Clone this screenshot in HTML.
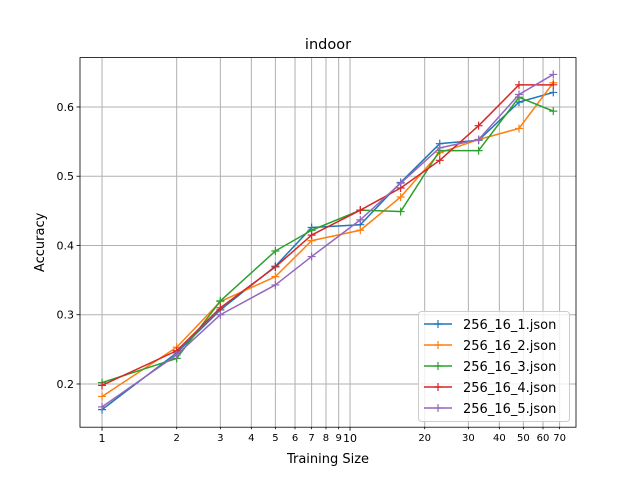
<!DOCTYPE html>
<html><head><meta charset="utf-8"><style>
body{margin:0;background:#fff;font-family:"Liberation Sans","DejaVu Sans",sans-serif;}
svg text{font-family:"DejaVu Sans","Liberation Sans",sans-serif;}
</style></head><body>
<svg id="chart" width="640" height="480" xmlns="http://www.w3.org/2000/svg"></svg>
<script>
const sizes=[1,2,3,5,7,11,16,23,33,48,66];
const s1=[0.163,0.245,0.307,0.370,0.426,0.430,0.491,0.547,0.552,0.607,0.621];
const s2=[0.182,0.253,0.319,0.355,0.407,0.422,0.470,0.534,0.553,0.569,0.635];
const s3=[0.202,0.237,0.320,0.392,0.422,0.451,0.449,0.537,0.537,0.614,0.594];
const s4=[0.198,0.248,0.310,0.369,0.415,0.451,0.483,0.523,0.573,0.632,0.632];
const s5=[0.167,0.242,0.300,0.343,0.384,0.437,0.490,0.541,0.553,0.618,0.647];
const seriesNames=["256_16_1.json","256_16_2.json","256_16_3.json","256_16_4.json","256_16_5.json"];
const colors=["#1f77b4","#ff7f0e","#2ca02c","#d62728","#9467bd"];
const yTicks=[0.2,0.3,0.4,0.5,0.6];
const xMajor=[1,10];
const xMinor=[2,3,4,5,6,7,8,9,20,30,40,50,60,70];
const L=80,R=576,T=57.6,B=427.2;
const xmin=0.815,xmax=81.5,ymin=0.1376,ymax=0.6713;
const X=v=>L+(Math.log10(v)-Math.log10(xmin))/(Math.log10(xmax)-Math.log10(xmin))*(R-L);
const Y=v=>B-(v-ymin)/(ymax-ymin)*(B-T);
const svg=document.getElementById('chart');const NS="http://www.w3.org/2000/svg";
function mk(t,a,p){const e=document.createElementNS(NS,t);for(const k in a)e.setAttribute(k,a[k]);(p||svg).appendChild(e);return e;}
// grid
xMajor.concat(xMinor).forEach(v=>{const g=mk('line',{x1:X(v),x2:X(v),y1:T,y2:B,stroke:'#b0b0b0','stroke-width':1});

});
yTicks.forEach(v=>{const g=mk('line',{x1:L,x2:R,y1:Y(v),y2:Y(v),stroke:'#b0b0b0','stroke-width':1});

});
// x ticks
xMajor.concat(xMinor).forEach(v=>{const major=xMajor.includes(v);
mk('line',{x1:X(v),x2:X(v),y1:B,y2:B+(major?3.5:2),stroke:'#000','stroke-width':0.8});
const t=mk('text',{x:X(v),y:B+(major?15:14),'text-anchor':'middle','font-size':major?11:10});t.textContent=v;

});
yTicks.forEach(v=>{mk('line',{x1:L-3.5,x2:L,y1:Y(v),y2:Y(v),stroke:'#000','stroke-width':0.8});
const t=mk('text',{x:L-6,y:Y(v)+4,'text-anchor':'end','font-size':11});t.textContent=v.toFixed(1);

});
// series
const all=[s1,s2,s3,s4,s5];
all.forEach((s,i)=>{const g=mk('g',{});


mk('polyline',{points:s.map((v,j)=>X(sizes[j])+','+Y(v)).join(' '),fill:'none',stroke:colors[i],'stroke-width':1.5,'stroke-linejoin':'round'},g);
s.forEach((v,j)=>{const x=X(sizes[j]),y=Y(v);
mk('path',{d:`M${x-4},${y}H${x+4}M${x},${y-4}V${y+4}`,stroke:colors[i],'stroke-width':1.2},g);});});
// frame
const fr=mk('rect',{x:L,y:T,width:R-L,height:B-T,fill:'none',stroke:'#000','stroke-width':0.8});


let t=mk('text',{x:(L+R)/2,y:49,'text-anchor':'middle','font-size':14.5});t.textContent='indoor';


t=mk('text',{x:(L+R)/2,y:463,'text-anchor':'middle','font-size':13});t.textContent='Training Size';


t=mk('text',{x:0,y:0,'text-anchor':'middle','font-size':13,transform:`translate(44,${(T+B)/2}) rotate(-90)`});t.textContent='Accuracy';


// legend
const lg=mk('g',{});


mk('rect',{x:418.5,y:311.5,width:151,height:110,rx:3,fill:'#fff','fill-opacity':0.8,stroke:'#ccc'},lg);
seriesNames.forEach((n,i)=>{const y=324+i*21;const e=mk('g',{},lg);


mk('line',{x1:424,x2:452,y1:y,y2:y,stroke:colors[i],'stroke-width':1.5},e);
mk('path',{d:`M434,${y}H442M438,${y-4}V${y+4}`,stroke:colors[i],'stroke-width':1.2},e);
const tt=mk('text',{x:463,y:y+5,'font-size':13},e);tt.textContent=n;});
</script>
</body></html>
